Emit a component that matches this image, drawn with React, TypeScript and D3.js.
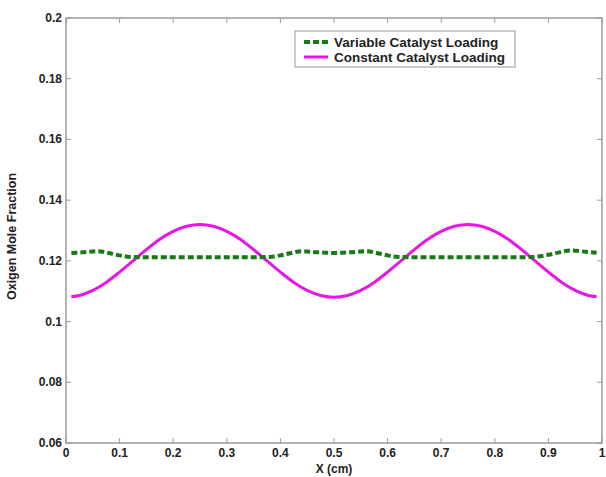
import React from "react";
import * as d3 from "d3";

const xTicks = [0, 0.1, 0.2, 0.3, 0.4, 0.5, 0.6, 0.7, 0.8, 0.9, 1];
const yTicks = [0.06, 0.08, 0.1, 0.12, 0.14, 0.16, 0.18, 0.2];
const yTickLabels = ["0.06", "0.08", "0.1", "0.12", "0.14", "0.16", "0.18", "0.2"];

const xVariable = [0.01, 0.03, 0.06, 0.08, 0.1, 0.12, 0.15, 0.2, 0.25, 0.3, 0.35, 0.38, 0.4, 0.42, 0.44, 0.47, 0.5, 0.53, 0.56, 0.58, 0.6, 0.62, 0.65, 0.7, 0.75, 0.8, 0.85, 0.87, 0.9, 0.92, 0.94, 0.97, 0.99];
const variableLoading = [0.1226, 0.1228, 0.1232, 0.1226, 0.1218, 0.1213, 0.1212, 0.1212, 0.1212, 0.1212, 0.1212, 0.1213, 0.1218, 0.1226, 0.1232, 0.1228, 0.1226, 0.1228, 0.1232, 0.1226, 0.1218, 0.1213, 0.1212, 0.1212, 0.1212, 0.1212, 0.1212, 0.1213, 0.1220, 0.1228, 0.1234, 0.1230, 0.1227];

const xConstant = [0.01, 0.025, 0.05, 0.075, 0.1, 0.125, 0.15, 0.175, 0.2, 0.225, 0.25, 0.275, 0.3, 0.325, 0.35, 0.375, 0.4, 0.425, 0.45, 0.475, 0.5, 0.525, 0.55, 0.575, 0.6, 0.625, 0.65, 0.675, 0.7, 0.725, 0.75, 0.775, 0.8, 0.825, 0.85, 0.875, 0.9, 0.925, 0.95, 0.975, 0.99];
const constantLoading = [0.1082, 0.1086, 0.1103, 0.1129, 0.1163, 0.12, 0.1237, 0.1271, 0.1297, 0.1314, 0.132, 0.1314, 0.1297, 0.1271, 0.1237, 0.12, 0.1163, 0.1129, 0.1103, 0.1086, 0.108, 0.1086, 0.1103, 0.1129, 0.1163, 0.12, 0.1237, 0.1271, 0.1297, 0.1314, 0.132, 0.1314, 0.1297, 0.1271, 0.1237, 0.12, 0.1163, 0.1129, 0.1103, 0.1086, 0.1082];

const seriesNames = ["Variable Catalyst Loading", "Constant Catalyst Loading"];

export default function App() {
  const W = 606, H = 477;
  const L = 66, R = 602, T = 18, B = 443;
  const x = d3.scaleLinear().domain([0, 1]).range([L, R]);
  const y = d3.scaleLinear().domain([0.06, 0.2]).range([B, T]);
  const line = d3.line<[number, number]>().x(d => x(d[0])).y(d => y(d[1])).curve(d3.curveMonotoneX);
  const varPts: [number, number][] = xVariable.map((v, i) => [v, variableLoading[i]]);
  const conPts: [number, number][] = xConstant.map((v, i) => [v, constantLoading[i]]);
  const axisColor = "#9a9a9a";
  const font = "'Liberation Sans', Arial, sans-serif";
  const green = "#177a17";
  const magenta = "#e617e6";
  return (
    <svg width={W} height={H} style={{ position: "absolute", left: 0, top: 0 }} fontFamily={font}>
      <rect x={0} y={0} width={W} height={H} fill="#fff" />
      <path d={line(conPts) || ""} fill="none" stroke={magenta} strokeWidth={3} />
      <path d={line(varPts) || ""} fill="none" stroke={green} strokeWidth={4} strokeDasharray="6,3" />
      <rect x={L} y={T} width={R - L} height={B - T} fill="none" stroke={axisColor} strokeWidth={1.5} />
      {xTicks.map((t, i) => (
        <g key={"x" + i}>
          <line x1={x(t)} x2={x(t)} y1={B} y2={B - 5} stroke={axisColor} />
          <line x1={x(t)} x2={x(t)} y1={T} y2={T + 5} stroke={axisColor} />
          <text x={x(t)} y={B + 14} textAnchor="middle" fontSize={12} fontWeight="bold" fill="#222">{String(t)}</text>
        </g>
      ))}
      {yTicks.map((t, i) => (
        <g key={"y" + i}>
          <line x1={L} x2={L + 5} y1={y(t)} y2={y(t)} stroke={axisColor} />
          <line x1={R} x2={R - 5} y1={y(t)} y2={y(t)} stroke={axisColor} />
          <text x={L - 4} y={y(t) + 4} textAnchor="end" fontSize={12} fontWeight="bold" fill="#222">{yTickLabels[i]}</text>
        </g>
      ))}
      <text x={(L + R) / 2} y={473} textAnchor="middle" fontSize={12} fontWeight="bold" fill="#222">X (cm)</text>
      <text transform={`translate(16,${(T + B) / 2 + 6}) rotate(-90)`} textAnchor="middle" fontSize={12.5} fontWeight="bold" fill="#222">Oxigen Mole Fraction</text>
      <g>
        <rect x={295} y={31} width={220} height={36} fill="#fff" stroke={axisColor} strokeWidth={1} />
        <line x1={304} x2={328} y1={42} y2={42} stroke={green} strokeWidth={4} strokeDasharray="6,3" />
        <line x1={304} x2={328} y1={57} y2={57} stroke={magenta} strokeWidth={3} />
        <text x={334} y={47} fontSize={13.5} fontWeight="bold" fill="#222">{seriesNames[0]}</text>
        <text x={334} y={62} fontSize={13.5} fontWeight="bold" fill="#222">{seriesNames[1]}</text>
      </g>
    </svg>
  );
}
